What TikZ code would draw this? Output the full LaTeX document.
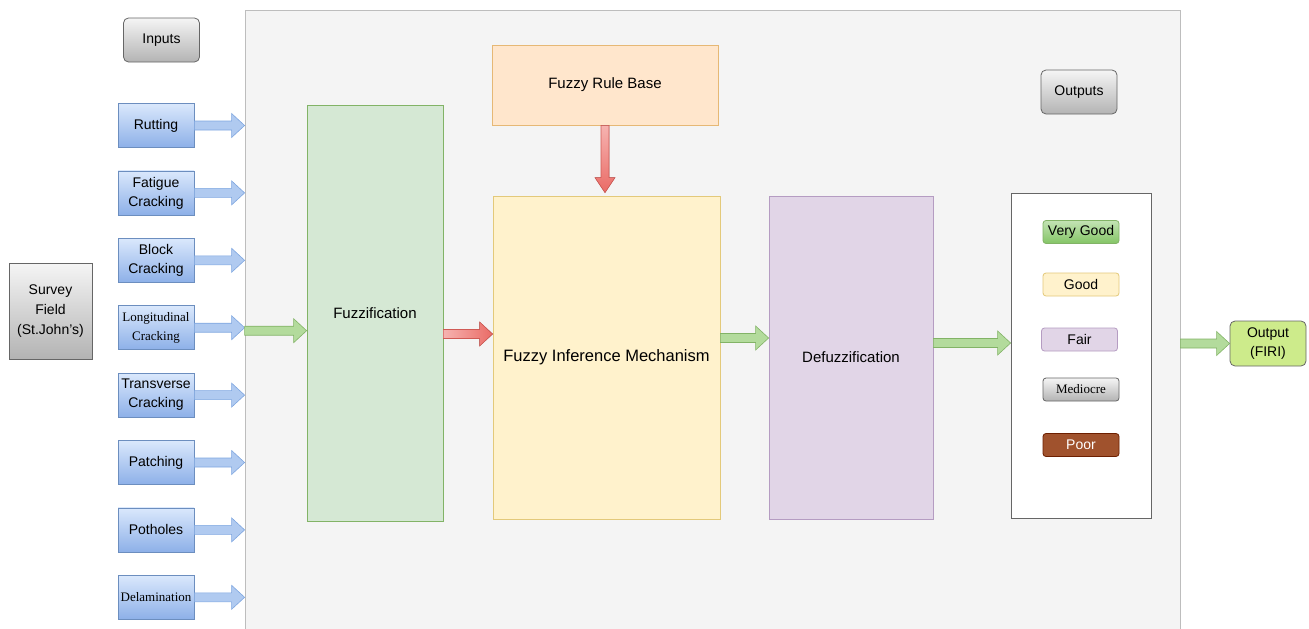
\documentclass[tikz,border=0pt]{standalone}
\usepackage{fontspec}
\setmainfont{Liberation Sans}
\newfontfamily\serifrm{Liberation Serif}
\usetikzlibrary{calc}

\definecolor{panelbg}{HTML}{F4F4F4}
\definecolor{panelline}{HTML}{BDBDBD}
\definecolor{bluetop}{HTML}{DAE8FC}
\definecolor{bluebot}{HTML}{8DB0E8}
\definecolor{blueline}{HTML}{6C8EBF}
\definecolor{grtop}{HTML}{F5F5F5}
\definecolor{grbot}{HTML}{B3B3B3}
\definecolor{grline}{HTML}{666666}
\definecolor{fuzzfill}{HTML}{D5E8D4}
\definecolor{fuzzline}{HTML}{82B366}
\definecolor{rulefill}{HTML}{FFE6CC}
\definecolor{ruleline}{HTML}{E6B875}
\definecolor{inffill}{HTML}{FFF2CC}
\definecolor{infline}{HTML}{E3C97A}
\definecolor{deffill}{HTML}{E1D5E7}
\definecolor{defline}{HTML}{B59CC2}
\definecolor{vgtop}{HTML}{C3E3B4}
\definecolor{vgbot}{HTML}{84C566}
\definecolor{poorfill}{HTML}{A0522D}
\definecolor{poorline}{HTML}{6D1F00}
\definecolor{firifill}{HTML}{CDEB8B}
\definecolor{arrblue}{HTML}{B0CAF0}
\definecolor{arrblueline}{HTML}{7EA6E0}
\definecolor{arrgreen}{HTML}{B3DB9C}
\definecolor{arrred}{HTML}{EA6B66}
\definecolor{arrredlt}{HTML}{F6B3B0}
\definecolor{arrredline}{HTML}{D05A55}

% flat block arrows, horizontal and downward
\newcommand\hflex[3]{%
\filldraw[#1]($(#2)+(0,-4.5)$)--($(#3)+(-13,-4.5)$)--($(#3)+(-13,-12)$)--(#3)
--($(#3)+(-13,12)$)--($(#3)+(-13,4.5)$)--($(#2)+(0,4.5)$)--cycle;}
\newcommand\vflex[3]{%
\filldraw[#1]($(#2)+(-4,0)$)--($(#3)+(-4,-15)$)--($(#3)+(-10,-15)$)--(#3)
--($(#3)+(10,-15)$)--($(#3)+(4,-15)$)--($(#2)+(4,0)$)--cycle;}

\begin{document}
\begin{tikzpicture}[x=1pt,y=-1pt,
box/.style={draw,line width=.8pt,inner sep=1pt,align=center,font=\fontsize{14}{19}\selectfont},
inbox/.style={box,draw=blueline,top color=bluetop,bottom color=bluebot,minimum width=76pt,minimum height=44pt},
grbtn/.style={box,draw=grline,top color=grtop,bottom color=grbot,rounded corners=5pt,minimum width=76pt,minimum height=44pt},
bigbox/.style={box,font=\fontsize{15}{19}\selectfont},
outitem/.style={box,rounded corners=3pt,minimum width=76pt,minimum height=23pt},
serifbox/.style={font=\serifrm\fontsize{13}{19}\selectfont},
blueflow/.style={fill=arrblue,draw=arrblueline,line width=.6pt},
greenflow/.style={fill=arrgreen,draw=fuzzline,line width=.6pt},
redflow/.style={left color=arrredlt,right color=arrred,draw=arrredline,line width=.6pt}]
\useasboundingbox(0,0)rectangle(1309,629);
\clip(0,0)rectangle(1309,629);

\node[draw=panelline,fill=panelbg,line width=.8pt,minimum width=935pt,minimum height=630pt,inner sep=0](panel)at(712.5,325){};

% inputs
\node[grbtn](inputs)at(161.5,40){Inputs};
\node[inbox](rut)at(156,125.5){Rutting};
\node[inbox](fat)at(156,192.9){Fatigue\\Cracking};
\node[inbox](blk)at(156,260.3){Block\\Cracking};
\node[inbox,serifbox](lon)at(156,327.7){Longitudinal\\Cracking};
\node[inbox](tra)at(156,395.1){Transverse\\Cracking};
\node[inbox](pat)at(156,462.5){Patching};
\node[inbox](pot)at(156,529.9){Potholes};
\node[inbox,serifbox](del)at(156,597.3){Delamination};
\node[box,draw=grline,top color=grtop,bottom color=grbot,minimum width=83pt,minimum height=96pt,font=\fontsize{14}{20}\selectfont](survey)at(50.5,311){Survey\\Field\\(St.John's)};

\hflex{blueflow}{rut.east}{rut.east-|panel.west}
\hflex{blueflow}{fat.east}{fat.east-|panel.west}
\hflex{blueflow}{blk.east}{blk.east-|panel.west}
\hflex{blueflow}{lon.east}{lon.east-|panel.west}
\hflex{blueflow}{tra.east}{tra.east-|panel.west}
\hflex{blueflow}{pat.east}{pat.east-|panel.west}
\hflex{blueflow}{pot.east}{pot.east-|panel.west}
\hflex{blueflow}{del.east}{del.east-|panel.west}

% fuzzy system
\node[bigbox,draw=fuzzline,fill=fuzzfill,minimum width=136pt,minimum height=416pt](fuzz)at(375,313){Fuzzification};
\node[bigbox,draw=ruleline,fill=rulefill,minimum width=226pt,minimum height=80pt](rule)at(605,85){Fuzzy Rule Base};
\node[bigbox,draw=infline,fill=inffill,minimum width=227pt,minimum height=323pt,font=\fontsize{16.5}{20}\selectfont](inf)at(606.5,357.5){Fuzzy Inference Mechanism};
\node[bigbox,draw=defline,fill=deffill,minimum width=164pt,minimum height=323pt](def)at(851,357.5){Defuzzification};

\coordinate(lonin)at($(lon.east-|panel.west)+(0,3)$);
\coordinate(fzout)at($(fuzz.east)+(0,21)$);
\coordinate(infout)at($(inf.east)+(0,-19.5)$);
\coordinate(defout)at($(def.east)+(0,-14.5)$);
\hflex{greenflow}{lonin}{lonin-|fuzz.west}
\hflex{redflow}{fzout}{fzout-|inf.west}
\vflex{draw=arrredline,line width=.6pt,top color=arrredlt,bottom color=arrred}{rule.south}{$(rule.south|-inf.north)+(0,-3)$}
\hflex{greenflow}{infout}{infout-|def.west}

% outputs
\node[grbtn](outputs)at(1079,92){Outputs};
\node[draw=grline,fill=white,line width=.8pt,minimum width=140pt,minimum height=325pt,inner sep=0](outbox)at(1081,355.5){};
\node[outitem,draw=fuzzline,top color=vgtop,bottom color=vgbot](vg)at(1081,232){Very Good};
\node[outitem,draw=infline,fill=inffill](good)at(1081,284.5){Good};
\node[outitem,draw=defline,fill=deffill](fair)at(1079.5,339.5){Fair};
\node[outitem,draw=grline,top color=grtop,bottom color=grbot,serifbox](med)at(1081,389.5){Mediocre};
\node[outitem,draw=poorline,fill=poorfill,text=white](poor)at(1081,445){Poor};
\node[box,draw=grline,fill=firifill,rounded corners=5pt,minimum width=76pt,minimum height=45pt](firi)at(1268,343.5){Output\\(FIRI)};

\hflex{greenflow}{defout}{defout-|outbox.west}
\hflex{greenflow}{firi.west-|panel.east}{firi.west}
\end{tikzpicture}
\end{document}
